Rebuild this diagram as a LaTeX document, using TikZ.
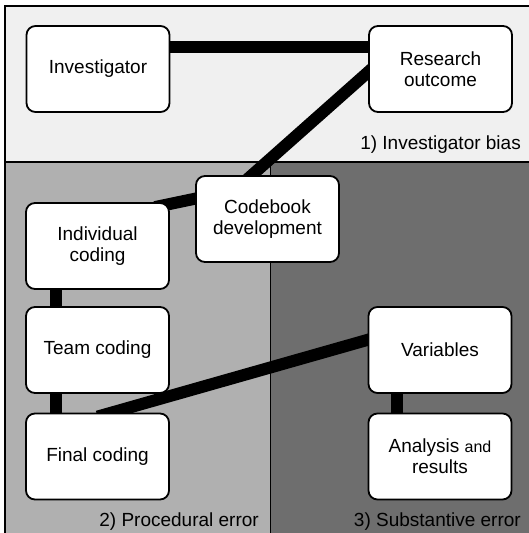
\documentclass[tikz,border=0pt]{standalone}
\usepackage{fontspec}
\setmainfont{Liberation Sans}
\usetikzlibrary{backgrounds}
\definecolor{biasgray}{gray}{0.94}
\definecolor{procgray}{gray}{0.69}
\definecolor{substgray}{gray}{0.43}

\begin{document}
\begin{tikzpicture}[x=1pt,y=-1pt,
  box/.style={draw,line width=1.8pt,rounded corners=9pt,fill=white,
    minimum width=143pt,minimum height=86pt,inner sep=0pt,align=center,
    font=\fontsize{19}{21}\selectfont},
  link/.style={line width=12pt},
  zone/.style={font=\fontsize{19}{21}\selectfont,anchor=base east,inner sep=0pt}]
\useasboundingbox (0,0) rectangle (529,533);
\node[box] (investigator) at (98,69) {Investigator};
\node[box] (outcome) at (440.5,69) {Research\\outcome};
\node[box] (codebook) at (267.5,219) {Codebook\\development};
\node[box] (individual) at (97.5,246) {Individual\\coding};
\node[box] (team) at (97.5,350) {Team coding};
\node[box] (final) at (97.5,456.5) {Final coding};
\node[box] (variables) at (440,350) {Variables};
\node[box] (analysis) at (440,456.5) {Analysis {\fontsize{16}{21}\selectfont and}\\results};
\node[zone] (biaslabel) at (521,149) {1) Investigator bias};
\node[zone] (proclabel) at (259,526) {2) Procedural error};
\node[zone] (substlabel) at (521,526) {3) Substantive error};
\begin{pgfonlayer}{background}
\fill[biasgray] (5,6) rectangle (535,162);
\fill[procgray] (5,162) rectangle (270,540);
\fill[substgray] (270,162) rectangle (535,540);
\draw[line width=1.8pt] (535,6) -- (5,6) -- (5,540);
\draw[line width=1.8pt] (5,162) -- (535,162);
\draw[line width=1pt] (270,162) -- (270,540);
\draw[link] ([yshift=22pt]investigator.east) -- ([yshift=22pt]outcome.west);
\draw[link] ([xshift=7.5pt,yshift=3.6pt]outcome.west) -- ([xshift=-23pt,yshift=-6.6pt]codebook.north);
\draw[link] ([xshift=8pt,yshift=22pt]codebook.west) -- ([xshift=-15pt,yshift=-5pt]individual.north east);
\draw[link] ([xshift=-42pt]individual.south) -- ([xshift=-42pt]team.north);
\draw[link] ([xshift=-42pt]team.south) -- ([xshift=-42pt]final.north);
\draw[link] ([xshift=10pt,yshift=13pt]variables.west) -- ([yshift=-4pt]final.north);
\draw[link] ([xshift=-43pt]variables.south) -- ([xshift=-43pt]analysis.north);
\end{pgfonlayer}
\end{tikzpicture}
\end{document}
